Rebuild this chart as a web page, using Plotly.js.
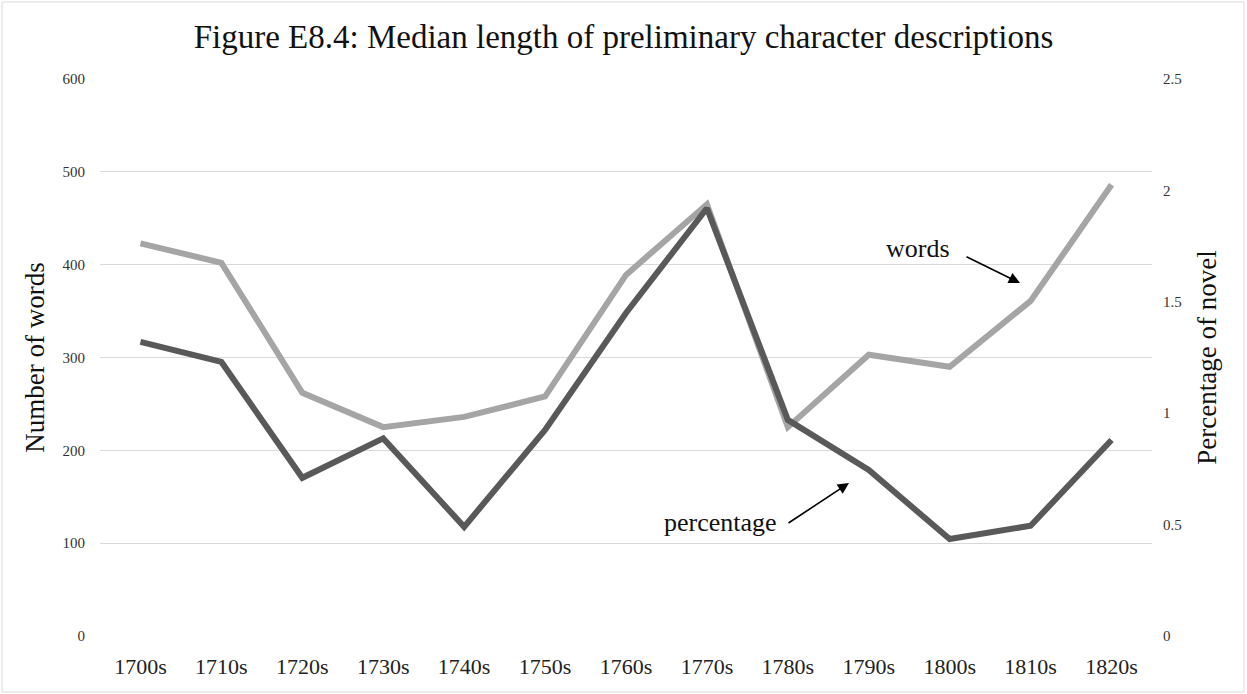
<!DOCTYPE html>
<html>
<head>
<meta charset="utf-8">
<script src="https://cdn.plot.ly/plotly-3.0.1.min.js"></script>
<style>
  html, body { margin: 0; padding: 0; background: #fff; }
  #chart { width: 1247px; height: 694px; }
</style>
</head>
<body>
<div id="chart"></div>
<script>
// Data
const decades = ["1700s","1710s","1720s","1730s","1740s","1750s","1760s","1770s","1780s","1790s","1800s","1810s","1820s"];
const wordsValues = [423, 402, 262, 225, 236, 258, 389, 465, 225, 303, 290, 361, 486];
const percentageValues = [1.32, 1.23, 0.71, 0.887, 0.49, 0.925, 1.45, 1.92, 0.97, 0.745, 0.435, 0.495, 0.88];
const leftTicks = [0, 100, 200, 300, 400, 500, 600];
const rightTicks = [0, 0.5, 1, 1.5, 2, 2.5];
const rightTickText = ["0", "0.5", "1", "1.5", "2", "2.5"];

const W = 1247, H = 694;
const L = 100, R = 95, T = 79, B = 58;
const pw = W - L - R, ph = H - T - B;
const px = x => (x - L) / pw;          // pixel x -> paper x
const py = y => (H - B - y) / ph;      // pixel y -> paper y

const serif = "Liberation Serif, Times New Roman, serif";

const traces = [
  {
    x: decades, y: wordsValues, type: "scatter", mode: "lines", name: "words",
    line: { color: "#a5a5a5", width: 6 }, yaxis: "y", hoverinfo: "x+y"
  },
  {
    x: decades, y: percentageValues, type: "scatter", mode: "lines", name: "percentage",
    line: { color: "#595959", width: 6 }, yaxis: "y2", hoverinfo: "x+y"
  }
];

const layout = {
  width: W, height: H,
  margin: { l: L, r: R, t: T, b: B },
  paper_bgcolor: "#ffffff",
  plot_bgcolor: "#ffffff",
  showlegend: false,
  font: { family: serif, color: "#222222" },
  title: {
    text: "Figure E8.4: Median length of preliminary character descriptions",
    font: { family: serif, size: 33, color: "#111111" },
    x: 0.5, xref: "container", xanchor: "center",
    y: 1 - 36 / H, yref: "container", yanchor: "middle"
  },
  xaxis: {
    type: "category",
    range: [-0.5, decades.length - 0.5],
    showgrid: false, zeroline: false, showline: false,
    ticks: "",
    tickfont: { family: serif, size: 22, color: "#222222" },
    ticklabelstandoff: 15,
    fixedrange: true
  },
  yaxis: {
    range: [0, 600],
    tickvals: leftTicks,
    showgrid: true, gridcolor: "#d9d9d9", gridwidth: 1,
    zeroline: false, showline: false, ticks: "",
    tickfont: { family: serif, size: 15, color: "#333333" },
    ticklabelstandoff: 14,
    title: { text: "Number of words", font: { family: serif, size: 27, color: "#111111" }, standoff: 10 },
    fixedrange: true
  },
  yaxis2: {
    range: [0, 2.5],
    tickvals: rightTicks, ticktext: rightTickText,
    overlaying: "y", side: "right",
    showgrid: false, zeroline: false, showline: false, ticks: "",
    tickfont: { family: serif, size: 15, color: "#333333" },
    ticklabelstandoff: 10,
    title: { text: "Percentage of novel", font: { family: serif, size: 27, color: "#111111" }, standoff: 16 },
    fixedrange: true
  },
  shapes: [
    {
      type: "rect", xref: "paper", yref: "paper",
      x0: px(2), x1: px(1244), y0: py(692), y1: py(2),
      line: { color: "#d9d9d9", width: 1 }, fillcolor: "rgba(0,0,0,0)", layer: "below"
    }
  ],
  annotations: [
    {
      text: "words", xref: "paper", yref: "paper",
      x: px(918), y: py(248), xanchor: "center", yanchor: "middle",
      showarrow: false, font: { family: serif, size: 26, color: "#111111" }
    },
    {
      text: "", xref: "paper", yref: "paper",
      x: px(1020), y: py(283), ax: 965 - 1020, ay: 256 - 283,
      showarrow: true, arrowhead: 2, arrowsize: 1.4, arrowwidth: 1.6, arrowcolor: "#000000"
    },
    {
      text: "percentage", xref: "paper", yref: "paper",
      x: px(720), y: py(522), xanchor: "center", yanchor: "middle",
      showarrow: false, font: { family: serif, size: 26, color: "#111111" }
    },
    {
      text: "", xref: "paper", yref: "paper",
      x: px(849), y: py(483), ax: 787 - 849, ay: 524 - 483,
      showarrow: true, arrowhead: 2, arrowsize: 1.4, arrowwidth: 1.6, arrowcolor: "#000000"
    }
  ]
};

Plotly.newPlot("chart", traces, layout, { displayModeBar: false, responsive: false, staticPlot: true });
</script>
</body>
</html>
